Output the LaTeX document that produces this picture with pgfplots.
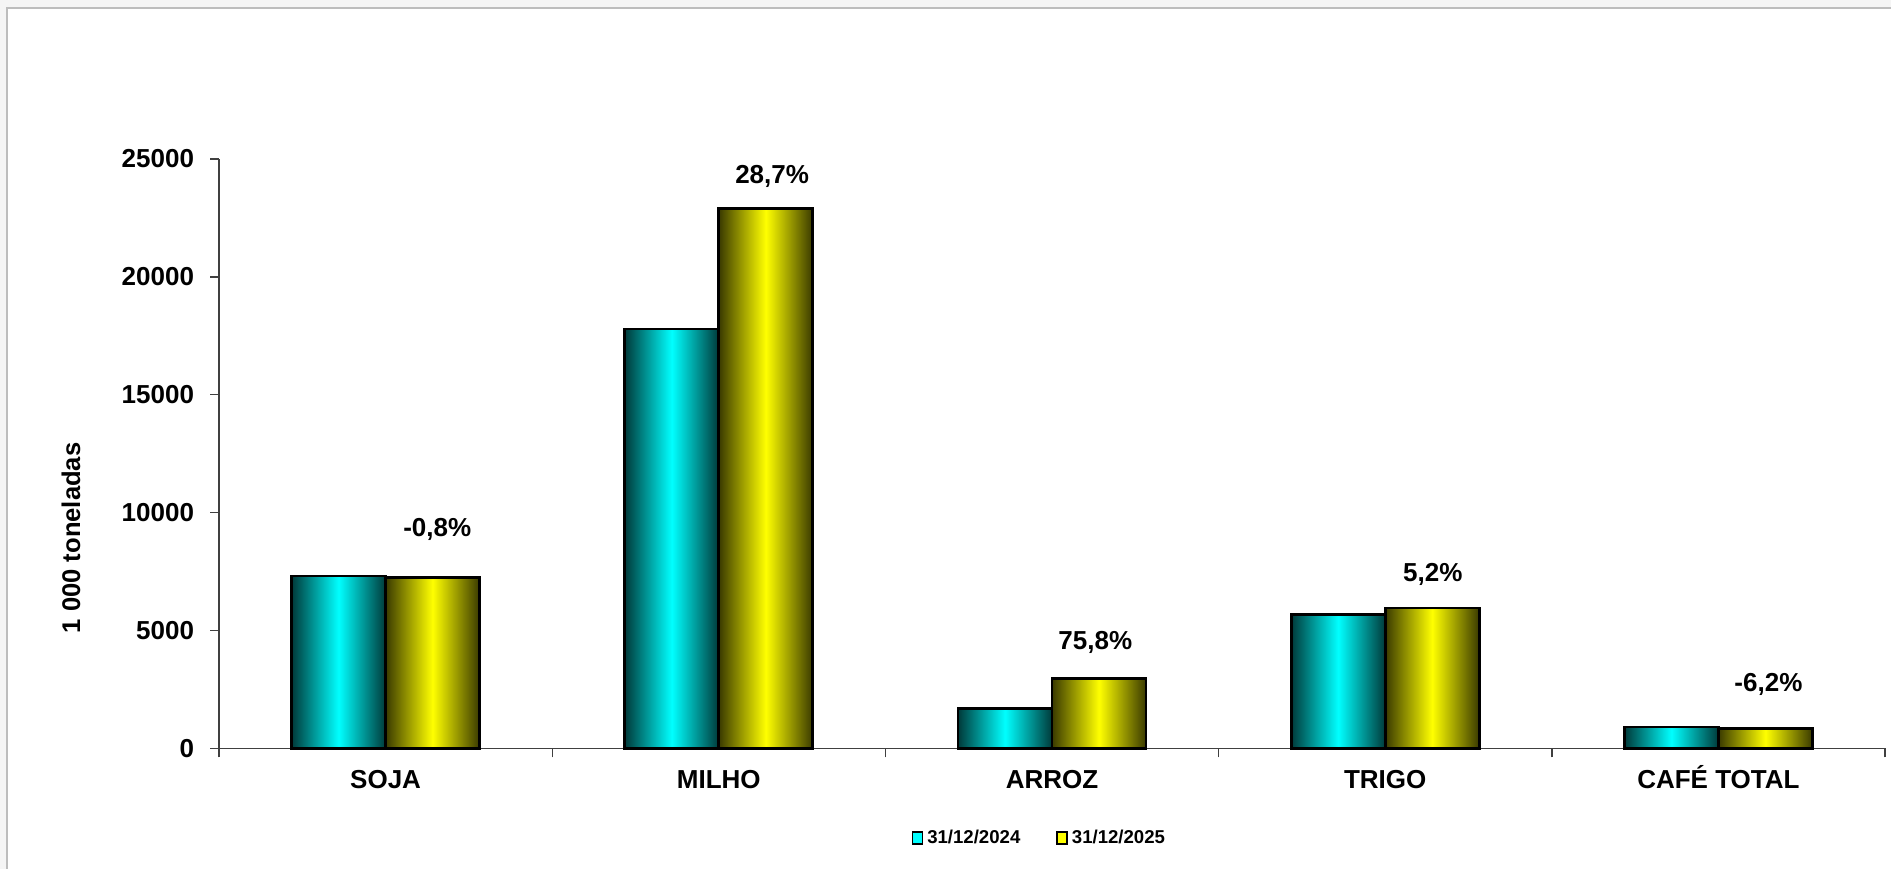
\documentclass[border=0pt]{standalone}
\usepackage{fontspec}
\setmainfont{Liberation Sans}
\usepackage{pgfplots}
\pgfplotsset{compat=1.18}
\definecolor{cyanA}{HTML}{00FFFF}
\definecolor{cyanD}{HTML}{003A3A}
\definecolor{yelA}{HTML}{FFFF00}
\definecolor{yelD}{HTML}{3A3A00}
\definecolor{bgout}{HTML}{F5F5F5}
\definecolor{framec}{HTML}{BDBDBD}
\definecolor{axgray}{HTML}{404040}
\newcommand{\lblfont}{\bfseries\fontsize{13bp}{15bp}\selectfont}
\pgfplotsset{
  cbar/.style={draw=black, line width=1.4bp, left color=cyanD, right color=cyanD, middle color=cyanA, bar shift=-0.141, forget plot},
  ybarst/.style={draw=black, line width=1.4bp, left color=yelD, right color=yelD, middle color=yelA, bar shift=0.141, forget plot},
}
\begin{document}
\begin{tikzpicture}[x=1bp,y=1bp]
\fill[bgout] (0,0) rectangle (945.5,434.5);
\fill[white] (3.5,0) rectangle (945.5,430.5);
\draw[framec, line width=0.8bp] (3.5,-2) -- (3.5,430.5) -- (948,430.5);
\begin{axis}[
  at={(109.5bp,60.35bp)}, anchor=south west,
  scale only axis, width=833bp, height=294.65bp,
  xmin=-0.5, xmax=4.5, ymin=0, ymax=25000,
  ybar=0pt, bar width=0.282,
  axis lines*=left,
  axis line style={axgray, line width=0.7bp},
  every tick/.style={axgray, line width=0.7bp},
  tick align=outside, major tick length=4.5bp,
  xtick={-0.5,0.5,1.5,2.5,3.5,4.5},
  x tick label as interval,
  xticklabels={SOJA,MILHO,ARROZ,TRIGO,CAFÉ TOTAL},
  ytick={0,5000,10000,15000,20000,25000},
  scaled y ticks=false,
  /pgf/number format/assume math mode=true,
  /pgf/number format/1000 sep={},
  ticklabel style={font=\lblfont},
  yticklabel style={anchor=east, inner sep=0pt, xshift=-7.8bp},
  xticklabel style={anchor=base, inner sep=0pt, yshift=-15.5bp},
  every axis y label/.style={at={(axis description cs:-0.0834,0.357)}, rotate=90, anchor=base, font=\bfseries\fontsize{12.8bp}{15bp}\selectfont},
  ylabel={1 000 toneladas},
  clip=false,
  legend style={at={(axis description cs:0.493,-0.152)}, anchor=center, draw=none, fill=none,
    font=\bfseries\fontsize{9.3bp}{11bp}\selectfont, legend columns=2,
    /tikz/every even column/.append style={column sep=16bp}, inner sep=0pt},
]
% 31/12/2024
\addplot[cbar] coordinates {(0,7310)};
\addplot[cbar] coordinates {(1,17790)};
\addplot[cbar] coordinates {(2,1685)};
\addplot[cbar] coordinates {(3,5670)};
\addplot[cbar] coordinates {(4,905)};
% 31/12/2025
\addplot[ybarst] coordinates {(0,7254)};
\addplot[ybarst] coordinates {(1,22895)};
\addplot[ybarst] coordinates {(2,2962)};
\addplot[ybarst] coordinates {(3,5955)};
\addplot[ybarst] coordinates {(4,845)};
\addlegendimage{legend image code/.code={\draw[fill=cyanA, draw=black, line width=0.8bp] (0bp,-3bp) rectangle (5bp,3bp);}}
\addlegendentry{31/12/2024}
\addlegendimage{legend image code/.code={\draw[fill=yelA, draw=black, line width=0.8bp] (0bp,-3bp) rectangle (5bp,3bp);}}
\addlegendentry{31/12/2025}
\node[font=\lblfont] at (axis cs:0.155,9280) {-0,8\%};
\node[font=\lblfont] at (axis cs:1.160,24270) {28,7\%};
\node[font=\lblfont] at (axis cs:2.130,4500) {75,8\%};
\node[font=\lblfont] at (axis cs:3.143,7390) {5,2\%};
\node[font=\lblfont] at (axis cs:4.150,2710) {-6,2\%};
\end{axis}
\pgfresetboundingbox
\useasboundingbox (0,0) rectangle (945.5,434.5);
\end{tikzpicture}
\end{document}
